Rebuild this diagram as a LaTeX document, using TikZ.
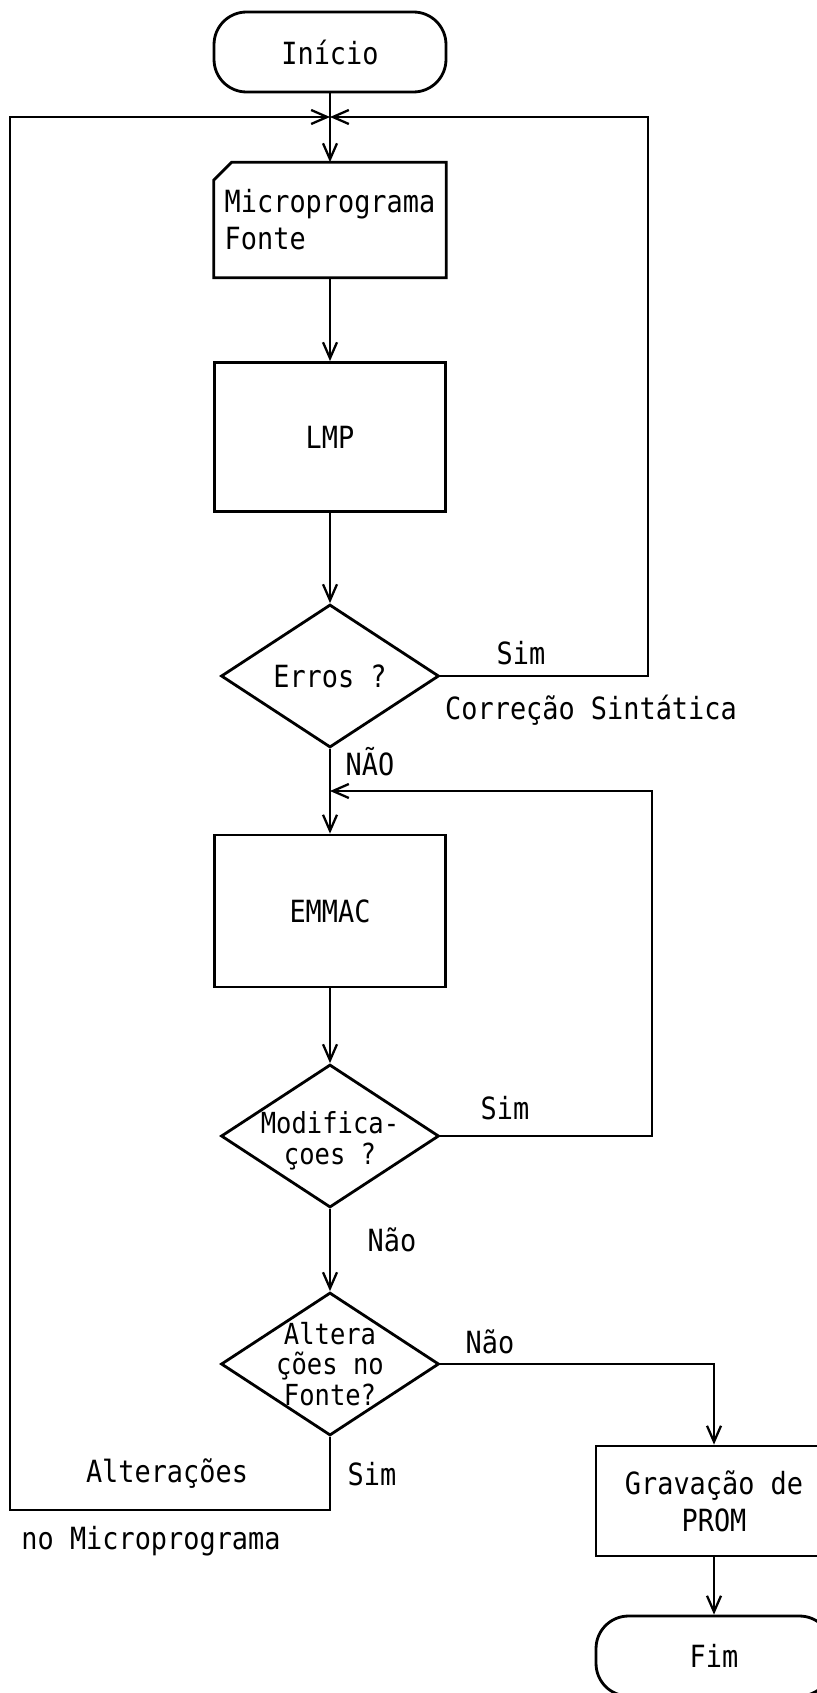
\documentclass[tikz,border=0pt]{standalone}
\usepackage{fontspec}
\setmonofont[FakeStretch=0.88]{DejaVu Sans Mono}
\usetikzlibrary{positioning,arrows.meta,shapes.geometric}

\begin{document}
\begin{tikzpicture}[x=0.02cm,y=-0.02cm,
  every node/.style={font=\ttfamily\fontsize{17.4}{21}\selectfont},
  line/.style={line width=1.6pt},
  arr/.style={line width=1.6pt,-{Straight Barb[length=0.32cm,width=0.28cm,line width=1.3pt]}},
  terminal/.style={draw,line width=1.6pt,rounded corners=0.65cm,minimum width=4.64cm,minimum height=1.6cm},
  procbox/.style={draw,line width=1.6pt,minimum width=4.62cm},
  decision/.style={draw,line width=1.6pt,diamond,minimum width=4.36cm,minimum height=2.86cm,inner sep=0pt},
  intext/.style={align=center,inner sep=0pt,font=\ttfamily\fontsize{16.5}{17.5}\selectfont}
]
\useasboundingbox (0,0) rectangle (817,1693);
\clip (0,0) rectangle (817,1693);

% main column
\node[terminal] (inicio) at (330,52) {Início};
\node[minimum width=4.64cm,minimum height=2.3cm,align=left] (card) at (330,220) {Microprograma\\Fonte};
\draw[line] (card.north west) ++(18,0) -- (card.north east) -- (card.south east)
  -- (card.south west) -- ([yshift=-0.36cm]card.north west) -- cycle;
\node[procbox,minimum height=2.98cm] (lmp) at (330,437) {LMP};
\node[decision,label={[inner sep=0pt]center:Erros ?}] (erros) at (330,676) {};
\node[procbox,minimum height=3.04cm] (emmac) at (330,911) {EMMAC};
\node[decision,label={[intext,yshift=-0.1cm]center:Modifica-\\çoes ?}] (modif) at (330,1136) {};
\node[decision,label={[intext]center:Altera\\ções no\\Fonte?}] (altera) at (330,1364) {};

% exit column
\node[procbox,minimum width=4.72cm,minimum height=2.2cm,align=center] (grav) at (714,1501) {Gravação de\\PROM};
\node[terminal,minimum width=4.72cm] (fim) at (714,1656) {Fim};

% loop corners
\coordinate (topj) at (330,117);
\coordinate (midj) at (330,791);
\coordinate (rtop) at (648,117);
\coordinate (rmid) at (652,791);
\coordinate (lbot) at (10,1510);
\coordinate (ltop) at (10,117);

% connectors
\draw[arr] (inicio.south) -- (card.north);
\draw[arr] (card) -- (lmp);
\draw[arr] (lmp) -- (erros);
\draw[arr] (erros) -- (emmac);
\draw[arr] (emmac) -- (modif);
\draw[arr] (modif) -- (altera);
\draw[arr] (erros.east) -| (rtop) -- (topj);
\draw[arr] (modif.east) -| (rmid) -- (midj);
\draw[arr] (altera.south) |- (lbot) -- (ltop) -- (topj);
\draw[arr] (altera.east) -| (grav.north);
\draw[arr] (grav) -- (fim);

% branch labels
\node (sim1) at (521,653) {Sim};
\node (correcao) at (591,710) {Correção Sintática};
\node (nao1) at (370,762) {NÃO};
\node (sim2) at (505,1108) {Sim};
\node (nao2) at (392,1240) {Não};
\node (nao3) at (490,1342) {Não};
\node (sim3) at (372,1474) {Sim};
\node (alt1) at (167,1474) {Alterações};
\node (alt2) at (151,1541) {no Microprograma};

\end{tikzpicture}
\end{document}
